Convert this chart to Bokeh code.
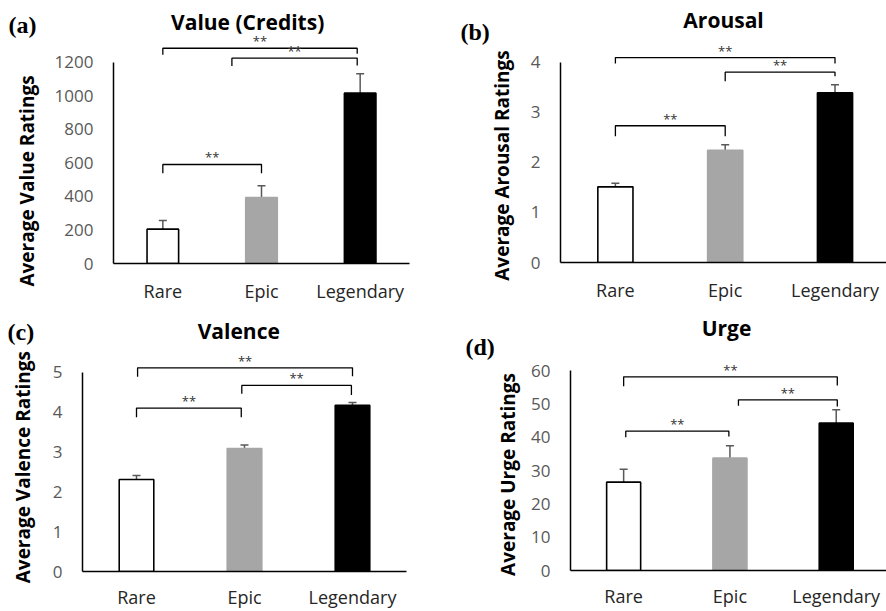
import math
from bokeh.plotting import figure
from bokeh.models import Range1d, FixedTicker, Label, ColumnDataSource, Whisker, TeeHead
from bokeh.layouts import row, column
from bokeh.embed import file_html
from bokeh.resources import INLINE
from bokeh.core.properties import value

# ---------------- data ----------------
categories = ["Rare", "Epic", "Legendary"]
bar_fill = ["white", "#a6a6a6", "black"]
bar_line = ["black", "#a6a6a6", "black"]

value_means = [205, 394, 1017]
value_errs = [52, 70, 115]
value_ticks = [0, 200, 400, 600, 800, 1000, 1200]

arousal_means = [1.51, 2.24, 3.39]
arousal_errs = [0.07, 0.11, 0.16]
arousal_ticks = [0, 1, 2, 3, 4]

valence_means = [2.31, 3.085, 4.17]
valence_errs = [0.10, 0.09, 0.07]
valence_ticks = [0, 1, 2, 3, 4, 5]

urge_means = [26.5, 33.7, 44.2]
urge_errs = [3.9, 3.75, 4.0]
urge_ticks = [0, 10, 20, 30, 40, 50, 60]

# significance brackets: (from cat idx, to cat idx, level, left drop end, right drop end)
value_brackets = [(0.0, 1.0, 591, 539, 539), (0.70, 1.97, 1226, 1179, 1182), (0.0, 1.97, 1285, 1246, 1252)]
arousal_brackets = [(0.0, 1.0, 2.73, 2.52, 2.52), (1.0, 2.0, 3.80, 3.62, 3.72), (0.0, 2.0, 4.09, 3.97, 3.97)]
valence_brackets = [(0.0, 0.97, 4.10, 3.87, 3.87), (0.975, 1.99, 4.67, 4.46, 4.43), (0.01, 2.0, 5.11, 4.89, 4.90)]
urge_brackets = [(0.02, 0.99, 41.8, 40.0, 40.2), (1.08, 2.01, 51.2, 49.4, 49.2), (0.0, 2.01, 58.1, 55.3, 55.5)]

FONT = "Open Sans"


def side_panel(width, height, letter, letter_pos, ylabel, ylabel_pos):
    s = figure(width=width, height=height, output_backend="svg", toolbar_location=None,
               x_range=Range1d(0, width), y_range=Range1d(height, 0),
               x_axis_location=None, y_axis_location=None, min_border=0,
               frame_align=False)
    s.outline_line_color = None
    s.xgrid.visible = False
    s.ygrid.visible = False
    s.add_layout(Label(x=letter_pos[0], y=letter_pos[1], text=letter, text_align="left",
                       text_baseline="middle", text_font="Liberation Serif",
                       text_font_style="bold", text_font_size="24px", text_color="black"))
    s.add_layout(Label(x=ylabel_pos[0], y=ylabel_pos[1], text=ylabel, angle=math.pi / 2,
                       text_align="center", text_baseline="middle", text_font=FONT,
                       text_font_style="bold", text_font_size="19px", text_color="black"))
    return s


def make_panel(means, errs, ticks, brackets, title,
               width, height, mb_left, mb_right, mb_bottom, x_end, y_end,
               title_pos, xlab_standoff):
    p = figure(width=width, height=height, output_backend="svg", toolbar_location=None,
               x_range=Range1d(0, x_end), y_range=Range1d(0, y_end),
               min_border_left=mb_left, min_border_right=mb_right,
               min_border_top=0, min_border_bottom=mb_bottom, frame_align=False)
    p.outline_line_color = None
    p.xgrid.visible = False
    p.ygrid.visible = False

    xs = [i + 0.5 for i in range(len(categories))]
    src = ColumnDataSource(dict(x=xs, top=means, fill=bar_fill, line=bar_line,
                                upper=[m + e for m, e in zip(means, errs)],
                                lower=[m - e for m, e in zip(means, errs)]))
    p.vbar(x="x", top="top", bottom=0, width=0.32, fill_color="fill", line_color="line",
           line_width=1.6, source=src)
    w = Whisker(base="x", upper="upper", lower="lower", source=src,
                line_color="#595959", line_width=1.5,
                upper_head=TeeHead(size=8, line_color="#595959", line_width=1.5),
                lower_head=TeeHead(size=8, line_color="#595959", line_width=1.5))
    p.add_layout(w)

    # significance brackets
    bx, by, sx, sy = [], [], [], []
    for a, b, lvl, dl, dr in brackets:
        xl, xr = a + 0.5, b + 0.5
        bx.append([xl, xl, xr, xr])
        by.append([dl, lvl, lvl, dr])
        sx.append((xl + xr) / 2)
        sy.append(lvl)
    p.multi_line(xs=bx, ys=by, line_color="black", line_width=1.3)
    p.text(x=sx, y=sy, text=["**"] * len(sx), text_align="center", text_baseline="middle",
           y_offset=-7, text_font=value(FONT), text_font_size="13px", text_color="#333333")

    # axes
    p.xaxis.ticker = FixedTicker(ticks=xs)
    p.xaxis.major_label_overrides = {x: c for x, c in zip(xs, categories)}
    p.xaxis.major_tick_out = 0
    p.xaxis.minor_tick_out = 0
    p.xaxis.major_tick_line_color = None
    p.xaxis.minor_tick_line_color = None
    p.xaxis.axis_line_color = "black"
    p.xaxis.axis_line_width = 1.5
    p.xaxis.major_label_standoff = xlab_standoff
    p.xaxis.major_label_text_font = FONT
    p.xaxis.major_label_text_font_size = "18px"
    p.xaxis.major_label_text_color = "#262626"

    p.yaxis.ticker = FixedTicker(ticks=ticks)
    p.yaxis.bounds = (0, ticks[-1])
    p.yaxis.major_tick_out = 0
    p.yaxis.minor_tick_out = 0
    p.yaxis.major_tick_line_color = None
    p.yaxis.minor_tick_line_color = None
    p.yaxis.axis_line_color = "black"
    p.yaxis.axis_line_width = 1.5
    p.yaxis.major_label_standoff = 20
    p.yaxis.major_label_text_font = FONT
    p.yaxis.major_label_text_font_size = "17px"
    p.yaxis.major_label_text_color = "#595959"

    p.add_layout(Label(x=title_pos[0], y=title_pos[1], text=title, text_align="center",
                       text_baseline="middle", text_font=FONT, text_font_style="bold",
                       text_font_size="21px", text_color="black"))
    return p


sa = side_panel(45, 305, "(a)", (8, 24), "Average Value Ratings", (26, 180.5))
pa = make_panel(value_means, value_errs, value_ticks, value_brackets, "Value (Credits)",
                398, 305, 68, 34, 42, 3.0, 1570, (1.36, 1439), 15)
sb = side_panel(75, 305, "(b)", (17, 31), "Average Arousal Ratings", (58, 165))
pb = make_panel(arousal_means, arousal_errs, arousal_ticks, arousal_brackets, "Arousal",
                368, 305, 42, 0, 43, 2.969, 5.23, (1.485, 4.84), 15)
sc = side_panel(42, 306, "(c)", (7, 26), "Average Valence Ratings", (22.5, 161.7))
pc = make_panel(valence_means, valence_errs, valence_ticks, valence_brackets, "Valence",
                401, 306, 40, 37, 39, 3.0, 6.675, (1.447, 6.04), 13)
sd = side_panel(79, 306, "(d)", (22, 41.5), "Average Urge Ratings", (64, 169))
pd_ = make_panel(urge_means, urge_errs, urge_ticks, urge_brackets, "Urge",
                 364, 306, 48, 0, 41, 2.973, 79.5, (1.468, 72.9), 13)

layout = column(row(sa, pa, sb, pb), row(sc, pc, sd, pd_))
open("out.html", "w").write(file_html(layout, INLINE))
